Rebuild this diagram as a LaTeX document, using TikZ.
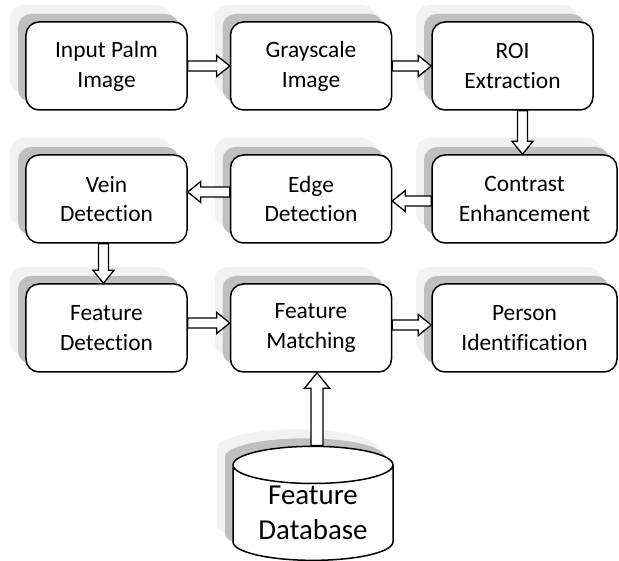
\documentclass[tikz,border=0pt]{standalone}
\usepackage{fontspec}
\setmainfont{Carlito}[Ligatures=NoCommon]
\usetikzlibrary{calc,shadows,shapes.geometric}
\definecolor{shadowdark}{RGB}{191,191,191}
\definecolor{shadowlight}{RGB}{242,242,242}
\tikzset{
  twoshadows/.style={
    copy shadow={shadow xshift=-16bp,shadow yshift=17bp,fill=shadowlight,draw=none},
    copy shadow={shadow xshift=-8bp,shadow yshift=8bp,fill=shadowdark,draw=none}},
  stage/.style={draw,line width=1.5bp,rounded corners=13bp,fill=white,inner sep=0pt,align=center,
    minimum width=161bp,minimum height=88bp,font=\fontsize{23.5}{30}\selectfont,twoshadows},
  hollow/.style={draw,line width=1.3bp,fill=white,line join=miter}
}
\newcommand{\blockarrow}[3][1]{%
  \coordinate (ba-s) at (#2);
  \coordinate (ba-t) at (#3);
  \coordinate (ba-b) at ($(ba-t)!#1*13bp!(ba-s)$);
  \draw[hollow] ($(ba-s)!#1*5bp!90:(ba-t)$) -- ($(ba-b)!#1*5bp!90:(ba-t)$) -- ($(ba-b)!#1*10.5bp!90:(ba-t)$)
    -- (ba-t) -- ($(ba-b)!#1*10.5bp!-90:(ba-t)$) -- ($(ba-b)!#1*5bp!-90:(ba-t)$) -- ($(ba-s)!#1*5bp!-90:(ba-t)$) -- cycle;}
\begin{document}
\begin{tikzpicture}[x=1bp,y=1bp]
\path[use as bounding box] (0,0) rectangle (619,561);
\node[stage] (palm) at (106.5,495) {Input Palm\\Image};
\node[stage] (gray) at (311,495) {Grayscale\\Image};
\node[stage] (roi) at (512.5,495) {ROI\\Extraction};
\node[stage,minimum width=185bp] (contrast) at (524.5,362) {Contrast\\Enhancement};
\node[stage] (edge) at (311,362) {Edge\\Detection};
\node[stage] (vein) at (106.5,362) {Vein\\Detection};
\node[stage] (featdet) at (106.5,233) {Feature\\Detection};
\node[stage] (match) at (311,233) {Feature\\Matching};
\node[stage,minimum width=185bp] (person) at (524.5,233) {Person\\Identification};
\node[cylinder,shape border rotate=90,draw,line width=1.5bp,fill=white,aspect=0.34,minimum width=160bp,minimum height=114bp,
  inner sep=0pt,align=center,font=\fontsize{29}{35}\selectfont,twoshadows] (db) at (313,48) {Feature\\Database};
\blockarrow{palm.east}{gray.west}
\blockarrow{gray.east}{roi.west}
\blockarrow{[xshift=10bp]roi.south}{[xshift=-2bp]contrast.north}
\blockarrow{[yshift=-2bp]contrast.west}{[yshift=-2bp]edge.east}
\blockarrow{[yshift=7bp]edge.west}{[yshift=7bp]vein.east}
\blockarrow{[xshift=-3bp]vein.south}{[xshift=-3bp]featdet.north}
\blockarrow{[yshift=5bp]featdet.east}{[yshift=5bp]match.west}
\blockarrow{[yshift=3bp]match.east}{[yshift=3bp]person.west}
\blockarrow[1.2]{[xshift=4bp]db.north}{[xshift=6bp]match.south}
\end{tikzpicture}
\end{document}
